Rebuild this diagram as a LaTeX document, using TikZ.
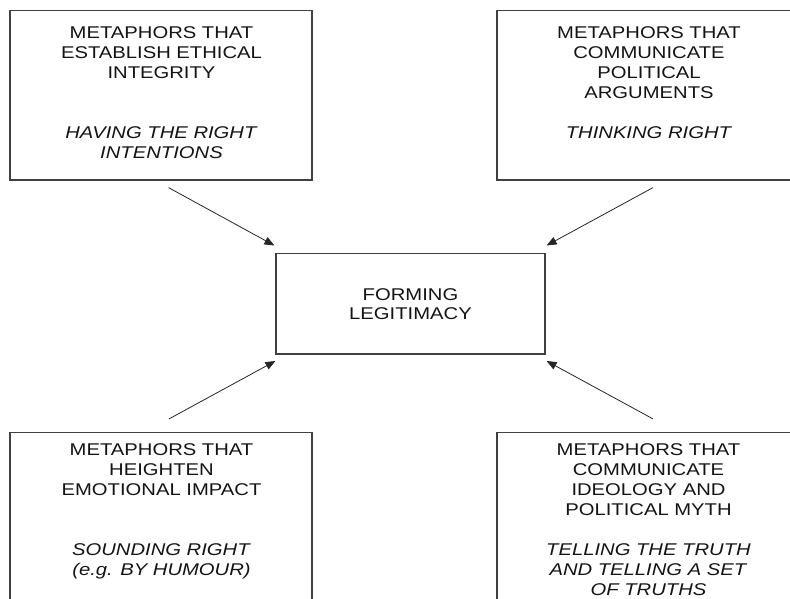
\documentclass[tikz,border=0pt]{standalone}
\usepackage{fontspec}
\setmainfont[FakeStretch=1.19]{Liberation Sans}
\usepackage{tikz}
\usetikzlibrary{arrows,arrows.meta}
\usetikzlibrary{positioning,shapes.geometric}

\tikzset{
  metabox/.style={draw=black!75, line width=1.2pt, minimum width=302pt, minimum height=169.3pt, inner sep=0pt},
  metatext/.style={align=center, anchor=north, inner sep=0pt, text=black!92, font=\fontsize{17}{20}\selectfont},
  hub/.style={draw=black!75, line width=1.2pt, minimum width=269pt, minimum height=100.4pt, inner sep=0pt, align=center, text=black!92, font=\fontsize{17}{19.3}\selectfont},
  link/.style={draw=black!85, line width=0.8pt, -{Triangle[length=10pt,width=8pt]}}
}

\begin{document}
\begin{tikzpicture} [x=1pt, y=-1pt]

\useasboundingbox (0,0) rectangle (790,598);
\clip (0,0) rectangle (790,598);
%\draw [help lines, step=10pt](0,0) grid (790,598);

\node [metabox] (ethic) at (161,95.35) {};
\node [metabox] (argue) at (648,95.35) {};
\node [metabox] (emot) at (161,517.35) {};
\node [metabox] (myth) at (648,517.35) {};
\node [hub] (legit) at (410.5,303.8) {FORMING\\LEGITIMACY};

\node [metatext] (ethictext) at ([xshift=0.5pt,yshift=-16.6pt]ethic.north) {METAPHORS THAT\\ESTABLISH ETHICAL\\INTEGRITY\\[40pt]\textit{HAVING THE RIGHT}\\\textit{INTENTIONS}};
\node [metatext] (arguetext) at ([xshift=1pt,yshift=-16.6pt]argue.north) {METAPHORS THAT\\COMMUNICATE\\POLITICAL\\ARGUMENTS\\[20pt]\textit{THINKING RIGHT}};
\node [metatext] (emottext) at ([xshift=0.5pt,yshift=-11.8pt]emot.north) {METAPHORS THAT\\HEIGHTEN\\EMOTIONAL IMPACT\\[40pt]\textit{SOUNDING RIGHT}\\\textit{(e.g. BY HUMOUR)}};
\node [metatext] (mythtext) at ([xshift=0.5pt,yshift=-11.8pt]myth.north) {METAPHORS THAT\\COMMUNICATE\\IDEOLOGY AND\\POLITICAL MYTH\\[20pt]\textit{TELLING THE TRUTH}\\\textit{AND TELLING A SET}\\\textit{OF TRUTHS}};

\draw [link] ([xshift=7.5pt,yshift=-7pt]ethic.south) -- ([xshift=-1pt,yshift=7.5pt]legit.north west);
\draw [link] ([xshift=5pt,yshift=-7pt]argue.south) -- ([xshift=1pt,yshift=7.5pt]legit.north east);
\draw [link] ([xshift=8pt,yshift=13.2pt]emot.north) -- ([yshift=-6.4pt]legit.south west);
\draw [link] ([xshift=5pt,yshift=13.2pt]myth.north) -- ([xshift=1pt,yshift=-6.4pt]legit.south east);

\end{tikzpicture}
\end{document}
